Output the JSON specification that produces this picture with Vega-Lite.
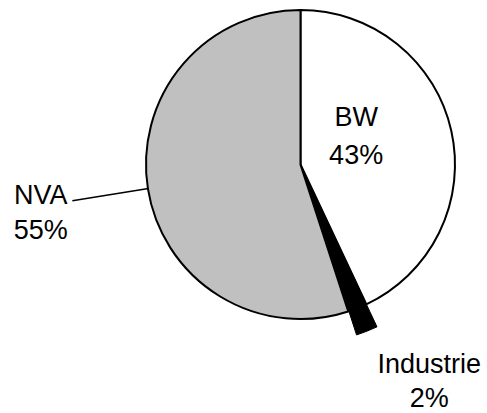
{
  "$schema": "https://vega.github.io/schema/vega-lite/v6.json",
  "width": 309,
  "height": 309,
  "autosize": {"type": "none"},
  "padding": {"left": 146, "top": 10, "right": 32, "bottom": 94},
  "background": "white",
  "config": {"view": {"stroke": null}, "text": {"font": "Liberation Sans"}},
  "data": {
    "values": [
      {"cat": "BW", "value": 43, "order": 1},
      {"cat": "Industrie", "value": 2, "order": 2},
      {"cat": "NVA", "value": 55, "order": 3}
    ]
  },
  "transform": [
    {"stack": "value", "groupby": [], "sort": [{"field": "order", "order": "ascending"}], "as": ["v0", "v1"]},
    {"calculate": "(datum.v0 + datum.v1) / 2", "as": "mid"},
    {"calculate": "datum.cat + '\\n' + datum.value + '%'", "as": "label"}
  ],
  "layer": [
    {
      "transform": [{"filter": "datum.cat != 'Industrie'"}],
      "mark": {"type": "arc", "stroke": "black", "strokeWidth": 2},
      "encoding": {
        "theta": {"field": "v0", "type": "quantitative", "scale": {"domain": [0, 100]}},
        "theta2": {"field": "v1"},
        "color": {"field": "cat", "type": "nominal", "legend": null,
          "scale": {"domain": ["BW", "Industrie", "NVA"], "range": ["#ffffff", "#000000", "#c0c0c0"]}}
      }
    },
    {
      "transform": [{"filter": "datum.cat == 'Industrie'"}],
      "mark": {"type": "arc", "stroke": "black", "strokeWidth": 1, "radius": 175, "xOffset": 2, "yOffset": 4},
      "encoding": {
        "theta": {"field": "v0", "type": "quantitative", "scale": {"domain": [0, 100]}},
        "theta2": {"field": "v1"},
        "color": {"field": "cat", "type": "nominal", "legend": null}
      }
    },
    {
      "transform": [{"filter": "datum.cat == 'NVA'"}],
      "mark": {"type": "arc", "stroke": "black", "strokeWidth": 1.5, "fill": null, "radius": 231, "radius2": 154},
      "encoding": {
        "theta": {"field": "mid", "type": "quantitative", "scale": {"domain": [0, 100]}},
        "theta2": {"field": "mid"}
      }
    },
    {
      "transform": [{"filter": "datum.cat == 'BW'"}],
      "mark": {"type": "text", "radius": 57, "dy": -34, "fontSize": 27, "lineBreak": "\n", "lineHeight": 38, "align": "center", "baseline": "middle"},
      "encoding": {
        "theta": {"field": "mid", "type": "quantitative", "scale": {"domain": [0, 100]}},
        "text": {"field": "label"}
      }
    },
    {
      "transform": [{"filter": "datum.cat == 'Industrie'"}],
      "mark": {"type": "text", "radius": 249, "dx": 37, "dy": -31, "fontSize": 27, "lineBreak": "\n", "lineHeight": 34, "align": "center", "baseline": "middle"},
      "encoding": {
        "theta": {"field": "mid", "type": "quantitative", "scale": {"domain": [0, 100]}},
        "text": {"field": "label"}
      }
    },
    {
      "transform": [{"filter": "datum.cat == 'NVA'"}],
      "mark": {"type": "text", "radius": 264, "dx": 1, "dy": -10, "fontSize": 27, "lineBreak": "\n", "lineHeight": 35, "align": "center", "baseline": "middle"},
      "encoding": {
        "theta": {"field": "mid", "type": "quantitative", "scale": {"domain": [0, 100]}},
        "text": {"field": "label"}
      }
    }
  ]
}
